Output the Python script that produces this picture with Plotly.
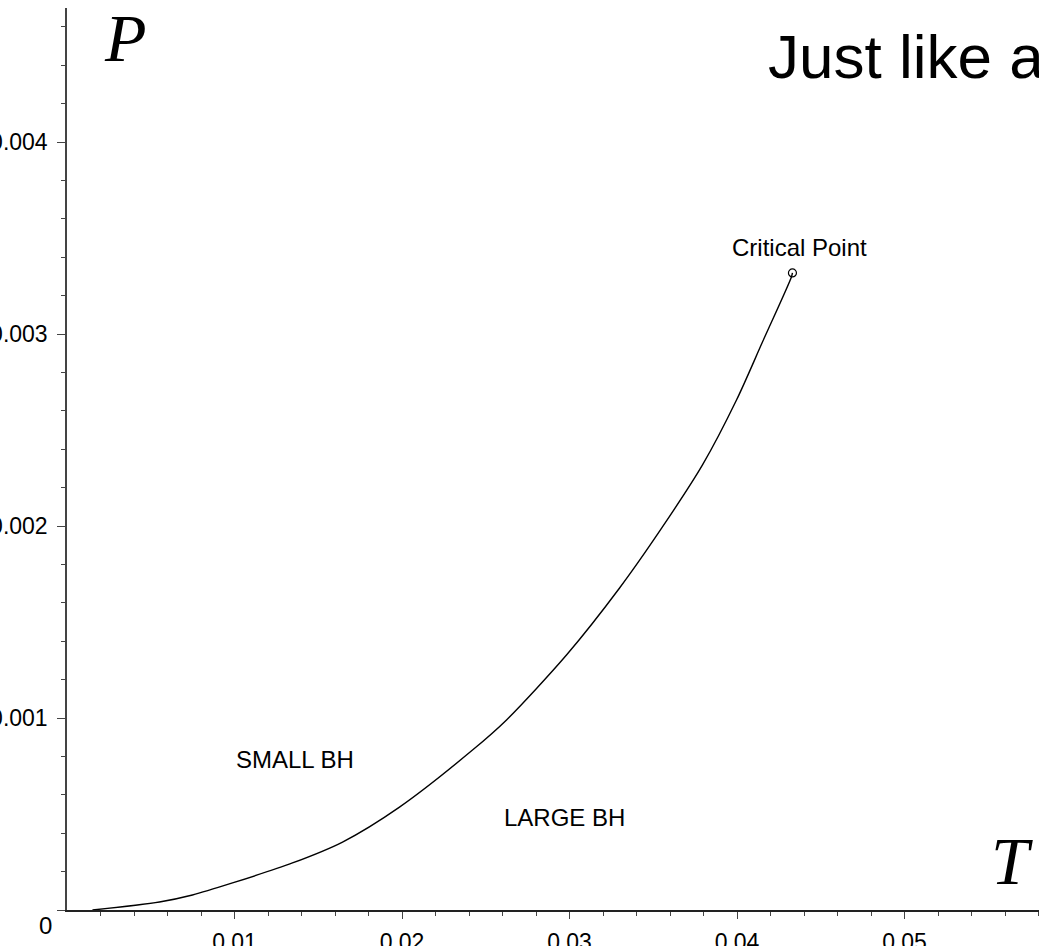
import plotly.graph_objects as go

# Coexistence line (T, P)
T_vals = [0.00152, 0.00552, 0.00749, 0.00988, 0.01346, 0.01645, 0.01985, 0.02421,
          0.02624, 0.02982, 0.03299, 0.03555, 0.03794, 0.03997, 0.04152, 0.04325, 0.04331]
P_vals = [0.0, 0.0000417, 0.0000781, 0.000141, 0.000245, 0.000354, 0.000536, 0.000833,
          0.000990, 0.001328, 0.001677, 0.001995, 0.002318, 0.002656, 0.002958, 0.003297, 0.003318]

crit_T = [0.04331]
crit_P = [0.003318]

x_major = [0.01, 0.02, 0.03, 0.04, 0.05]
x_major_text = ["0.01", "0.02", "0.03", "0.04", "0.05"]
x_minor = [0.002 * i for i in range(1, 30)]
y_major = [0.0, 0.001, 0.002, 0.003, 0.004]
y_major_text = ["", "0.001", "0.002", "0.003", "0.004"]
y_minor = [0.0002 * i for i in range(1, 24)]

SANS = "Liberation Sans, Arial, sans-serif"
SERIF = "Liberation Serif, Times New Roman, serif"

fig = go.Figure()
fig.add_trace(go.Scatter(x=T_vals, y=P_vals, mode="lines",
                         line=dict(color="black", width=1.4, shape="spline", smoothing=0.8),
                         hoverinfo="skip", showlegend=False))
fig.add_trace(go.Scatter(x=crit_T, y=crit_P, mode="markers",
                         marker=dict(symbol="circle-open", size=8, color="black",
                                     line=dict(width=1.2)),
                         showlegend=False))

W, H = 1039, 946
L, R, B, Tm = 67, 0, 36, 8
pw = W - L - R
ph = H - B - Tm
xmax = pw / 16750.0
ymax = ph / 192000.0

fig.update_layout(
    width=W, height=H,
    margin=dict(l=L, r=R, t=Tm, b=B, autoexpand=False),
    paper_bgcolor="white", plot_bgcolor="white",
    xaxis=dict(range=[0, xmax], showgrid=False, zeroline=False, automargin=False,
               showline=True, linecolor="#222", linewidth=1.5,
               tickmode="array", tickvals=x_major, ticktext=x_major_text,
               ticks="outside", ticklen=7, tickwidth=1.2, tickcolor="#444",
               tickfont=dict(family=SANS, size=23, color="black"),
               ticklabelstandoff=4,
               minor=dict(tickmode="array", tickvals=x_minor, ticks="outside",
                          ticklen=4, tickwidth=1, tickcolor="#444", showgrid=False)),
    yaxis=dict(range=[0, ymax], showgrid=False, zeroline=False, automargin=False,
               showline=True, linecolor="#444", linewidth=1.5,
               tickmode="array", tickvals=y_major, ticktext=y_major_text,
               ticks="outside", ticklen=8, tickwidth=1.2, tickcolor="#444",
               tickfont=dict(family=SANS, size=23, color="black"),
               ticklabelstandoff=5,
               minor=dict(tickmode="array", tickvals=y_minor, ticks="outside",
                          ticklen=4, tickwidth=1, tickcolor="#444", showgrid=False)),
)

def px2paper(px, py):
    return (px - L) / pw, (H - B - py) / ph

ann = []
ann.append(dict(x=0.04373, y=0.003453, xref="x", yref="y", text="Critical Point",
                showarrow=False, xanchor="center", yanchor="middle",
                font=dict(family=SANS, size=24, color="black")))
ann.append(dict(x=0.01364, y=0.000786, xref="x", yref="y", text="SMALL BH",
                showarrow=False, xanchor="center", yanchor="middle",
                font=dict(family=SANS, size=24, color="black")))
ann.append(dict(x=0.0297, y=0.000484, xref="x", yref="y", text="LARGE BH",
                showarrow=False, xanchor="center", yanchor="middle",
                font=dict(family=SANS, size=24, color="black")))
px_, py_ = px2paper(125, 38)
ann.append(dict(x=px_, y=py_, xref="paper", yref="paper", text="<i>P</i>",
                showarrow=False, xanchor="center", yanchor="middle",
                font=dict(family=SERIF, size=68, color="black")))
px_, py_ = px2paper(1012, 861)
ann.append(dict(x=px_, y=py_, xref="paper", yref="paper", text="<i>T</i>",
                showarrow=False, xanchor="center", yanchor="middle",
                font=dict(family=SERIF, size=68, color="black")))
px_, py_ = px2paper(45, 925)
ann.append(dict(x=px_, y=py_, xref="paper", yref="paper", text="0",
                showarrow=False, xanchor="center", yanchor="middle",
                font=dict(family=SANS, size=24, color="black")))
px_, py_ = px2paper(767, 56)
ann.append(dict(x=px_, y=py_, xref="paper", yref="paper", text="Just like a",
                showarrow=False, xanchor="left", yanchor="middle", borderpad=0,
                font=dict(family=SANS, size=62, color="black")))
fig.update_layout(annotations=ann)

fig.write_html("out.html", config={"displayModeBar": False},
               post_script="document.body.style.margin='0px';document.body.style.overflow='hidden';")
